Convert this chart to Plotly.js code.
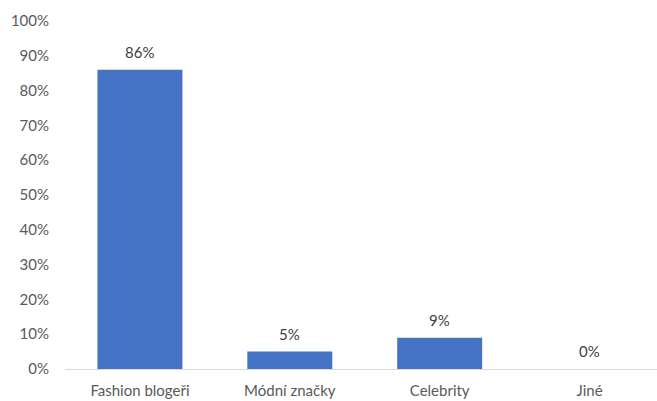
<!DOCTYPE html>
<html>
<head>
<meta charset="utf-8">
<script src="https://cdn.plot.ly/plotly-3.0.1.min.js"></script>
<style>html,body{margin:0;padding:0;background:#fff;}#chart{width:657px;height:401px;}</style>
</head>
<body>
<div id="chart"></div>
<script>
const categories = ["Fashion blogeři", "Módní značky", "Celebrity", "Jiné"];
const values = [0.86, 0.05, 0.09, 0.0];
const valueLabels = ["86%", "5%", "9%", "0%"];
const yTickVals = [0, 0.1, 0.2, 0.3, 0.4, 0.5, 0.6, 0.7, 0.8, 0.9, 1.0];
const yTickText = ["0%", "10%", "20%", "30%", "40%", "50%", "60%", "70%", "80%", "90%", "100%"];

const fontFam = "Lato, Open Sans, sans-serif";

const trace = {
  type: "bar",
  x: categories,
  y: values,
  marker: {color: "#4472C4"},
  width: 0.567,
  hoverinfo: "none"
};

const annotations = categories.map((c, i) => ({
  x: c, y: values[i], xref: "x", yref: "y",
  text: valueLabels[i], showarrow: false,
  yanchor: "bottom", yshift: 7,
  font: {family: fontFam, size: 15, color: "#404040"}
}));

const layout = {
  width: 657, height: 401,
  margin: {l: 65, r: 0, t: 21, b: 32, pad: 0},
  paper_bgcolor: "#ffffff", plot_bgcolor: "#ffffff",
  showlegend: false,
  xaxis: {
    type: "category",
    range: [-0.5, 3.45],
    showline: true, linecolor: "#d9d9d9", linewidth: 1,
    showgrid: false, zeroline: false, ticks: "",
    ticklabelstandoff: 8,
    tickfont: {family: fontFam, size: 15, color: "#595959"}
  },
  yaxis: {
    range: [0, 1],
    tickvals: yTickVals, ticktext: yTickText,
    showgrid: false, zeroline: false, showline: false, ticks: "",
    ticklabelstandoff: 15,
    tickfont: {family: fontFam, size: 15, color: "#595959"}
  },
  annotations: annotations
};

Plotly.newPlot("chart", [trace], layout, {displayModeBar: false, staticPlot: true});
</script>
</body>
</html>
